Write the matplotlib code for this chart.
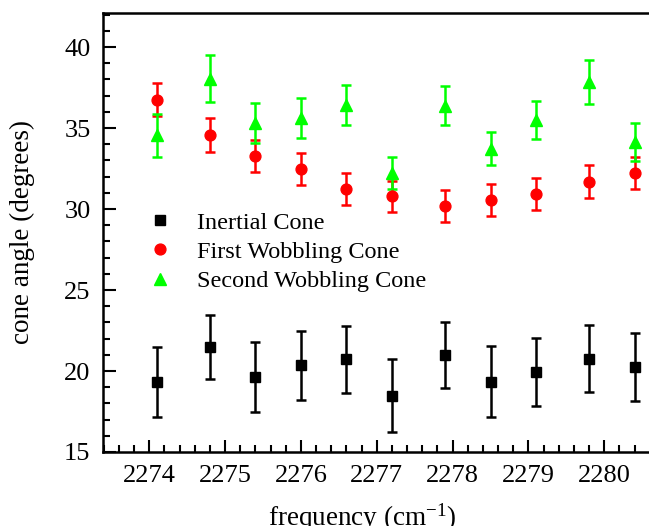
import matplotlib
matplotlib.use("Agg")
import matplotlib.pyplot as plt
from matplotlib.ticker import MultipleLocator

plt.rcParams.update({
    "font.family": ["Liberation Serif", "DejaVu Serif"],
    "mathtext.fontset": "custom",
    "mathtext.rm": "Liberation Serif",
    "mathtext.it": "Liberation Serif:italic",
})

freq = [2274.1, 2274.8, 2275.4, 2276.0, 2276.6, 2277.2, 2277.9, 2278.5, 2279.1, 2279.8, 2280.4]

inertial = [19.32, 21.48, 19.63, 20.35, 20.72, 18.48, 20.99, 19.34, 19.92, 20.76, 20.25]
inertial_err = [2.17, 2.0, 2.14, 2.11, 2.05, 2.25, 2.03, 2.18, 2.11, 2.06, 2.1]

first = [36.75, 34.57, 33.25, 32.45, 31.25, 30.78, 30.19, 30.57, 30.94, 31.69, 32.2]
first_err = [1.02, 1.02, 0.98, 0.99, 0.99, 0.95, 1.0, 0.98, 0.99, 1.02, 0.98]

second = [34.55, 38.05, 35.33, 35.62, 36.42, 32.22, 36.38, 33.72, 35.48, 37.85, 34.12]
second_err = [1.32, 1.45, 1.23, 1.21, 1.24, 1.0, 1.2, 1.03, 1.18, 1.34, 1.16]

labels = ["Inertial Cone", "First Wobbling Cone", "Second Wobbling Cone"]

fig = plt.figure(figsize=(6.49, 5.26), dpi=100)
ax = fig.add_axes([103 / 649, 74 / 526, 1 - 103 / 649, 439 / 526])

series = [
    (inertial, inertial_err, "s", "black", 6.5),
    (first, first_err, "o", "#ff0000", 7.8),
    (second, second_err, "^", "#00ff00", 8.5),
]
for (vals, errs, mk, col, ms), lab in zip(series, labels):
    ax.errorbar(freq, vals, yerr=errs, fmt="none", ecolor=col, elinewidth=1.8,
                capsize=3.4, capthick=1.8, zorder=2)
    ax.plot(freq, vals, ls="none", marker=mk, color=col, ms=ms, mec=col,
            label=lab, zorder=3)

ax.set_xlim(2273.39, 2280.59)
ax.set_ylim(15, 42.1)
ax.xaxis.set_major_locator(MultipleLocator(1))
ax.xaxis.set_minor_locator(MultipleLocator(0.2))
ax.yaxis.set_major_locator(MultipleLocator(5))
ax.yaxis.set_minor_locator(MultipleLocator(1))
ax.tick_params(which="both", direction="in", top=False, right=False, width=1.5,
               labelsize=19)
ax.tick_params(which="major", length=9)
ax.tick_params(which="minor", length=5)
ax.tick_params(axis="x", pad=9)
ax.tick_params(axis="y", pad=9)
for side in ["left", "bottom", "top"]:
    ax.spines[side].set_linewidth(1.8)
ax.spines["right"].set_visible(False)

ax.set_xlabel(r"frequency (cm$^{\mathregular{-1}}$)", fontsize=19.5)
ax.set_ylabel("cone angle (degrees)", fontsize=19.5)
ax.xaxis.set_label_coords(0.474, -0.113)
ax.yaxis.set_label_coords(-0.1245, 0.5)

ax.legend(loc="upper left", bbox_to_anchor=(0.065, 0.57), frameon=False,
          fontsize=17.5, handlelength=1.0, handletextpad=1.0,
          labelspacing=0.3, borderaxespad=0)

fig.savefig("out.png", dpi=100)
